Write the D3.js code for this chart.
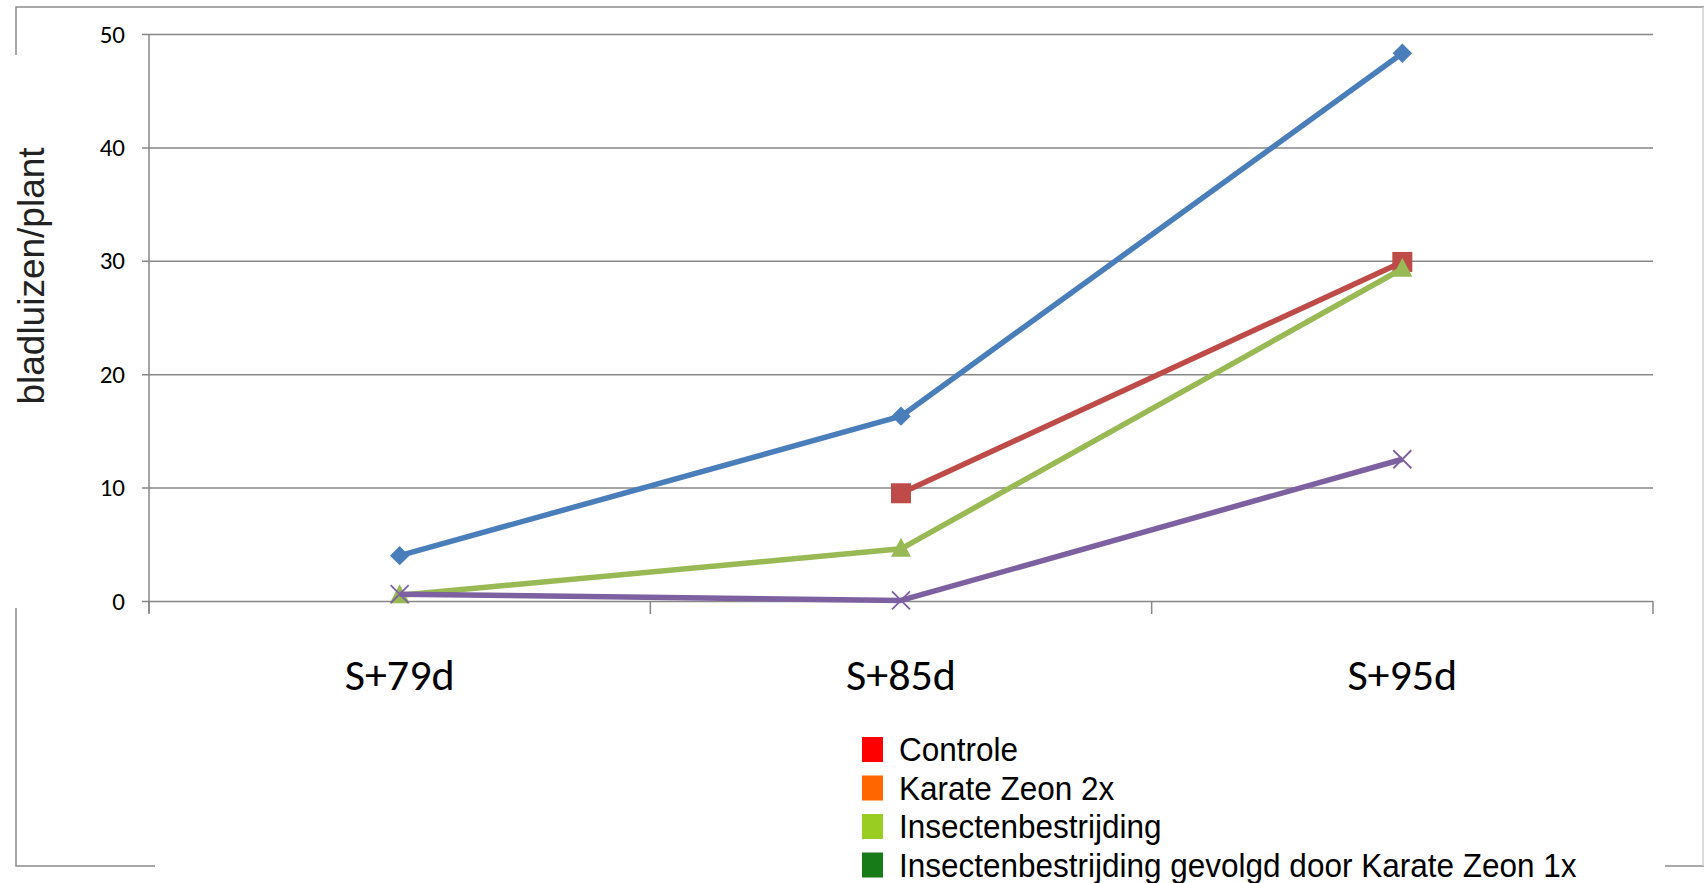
<!DOCTYPE html>
<html><head><meta charset="utf-8">
<script src="https://cdn.jsdelivr.net/npm/d3@7"></script>
<style>html,body{margin:0;padding:0;background:#fff;}svg{display:block;}</style>
</head><body>
<svg id="c" width="1704" height="883"></svg>
<script>
const categories = ["S+79d", "S+85d", "S+95d"];
const blueValues   = [4.0, 16.3, 48.3];
const redValues    = [null, 9.5, 29.9];
const greenValues  = [0.5, 4.6, 29.3];
const purpleValues = [0.6, 0.05, 12.5];
const yTicks = [0, 10, 20, 30, 40, 50];
const legendLabels = ["Controle", "Karate Zeon 2x", "Insectenbestrijding", "Insectenbestrijding gevolgd door Karate Zeon 1x"];
const legendColors = ["#FF0000", "#FF6600", "#9ACD22", "#177B17"];
const yTitle = "bladluizen/plant";

const svg = d3.select("#c");
const L = 149, R = 1653, T = 34, B = 601;
const x = d3.scaleBand().domain(categories).range([L, R]);
const y = d3.scaleLinear().domain([0, 50]).range([B, T]);
const gridColor = "#878787";

// frame
const frame = svg.append("g").attr("stroke", "#8c8c8c").attr("stroke-width", 1.5).attr("fill", "none");
frame.append("path").attr("d", "M16,55 V7 H1704");
frame.append("path").attr("d", "M16,608 V866 H155");
frame.append("path").attr("d", "M1665,866 H1704");
frame.append("path").attr("d", "M1703,7 V866").attr("stroke", "#d0d0d0");

// gridlines + y ticks
const yAxis = d3.axisLeft(y).tickValues(yTicks).tickSize(-(R - L)).tickSizeOuter(0).tickPadding(24);
const gy = svg.append("g").attr("transform", `translate(${L},0)`).call(yAxis)
  .attr("font-size", null).attr("font-family", null);
gy.select(".domain").remove();
gy.selectAll(".tick line").attr("stroke", gridColor).attr("stroke-width", 1.5).attr("x1", -7);
gy.selectAll(".tick text")
  .style("font-family", "Carlito, Lato, 'Open Sans', sans-serif")
  .style("font-size", "25px").attr("fill", "#000");
// y axis line
svg.append("line").attr("x1", L).attr("x2", L).attr("y1", T).attr("y2", B + 12).attr("stroke", gridColor).attr("stroke-width", 1.5);

// x axis ticks
const bounds = [L].concat(categories.map(c => x(c) + x.bandwidth()));
svg.append("g").selectAll("line").data(bounds).join("line")
  .attr("x1", d => d).attr("x2", d => d).attr("y1", B).attr("y2", B + 13)
  .attr("stroke", gridColor).attr("stroke-width", 1.5);
svg.append("g").selectAll("text").data(categories).join("text")
  .attr("x", d => x(d) + x.bandwidth() / 2).attr("y", 690)
  .attr("text-anchor", "middle")
  .style("font-family", "Carlito, Lato, 'Open Sans', sans-serif").style("font-size", "44px")
  .text(d => d);

// y title
svg.append("text").attr("transform", "translate(44,276) rotate(-90)")
  .attr("text-anchor", "middle").style("font-family", "'Liberation Sans', Arial, sans-serif")
  .style("font-size", "37px").attr("fill", "#222").text(yTitle);

// series
const series = [
  {vals: blueValues, color: "#4A7EBB", marker: "diamond"},
  {vals: redValues, color: "#BE4B48", marker: "square"},
  {vals: greenValues, color: "#98B954", marker: "triangle"},
  {vals: purpleValues, color: "#7D60A0", marker: "x"}
];
const cx = c => x(c) + x.bandwidth() / 2;
const line = d3.line().defined(d => d.v !== null).x(d => cx(d.c)).y(d => y(d.v));
series.forEach(s => {
  const pts = categories.map((c, i) => ({c, v: s.vals[i]}));
  svg.append("path").datum(pts).attr("d", line).attr("fill", "none")
    .attr("stroke", s.color).attr("stroke-width", 5.5).attr("stroke-linejoin", "round");
  const g = svg.append("g");
  pts.filter(p => p.v !== null).forEach(p => {
    const px = cx(p.c), py = y(p.v);
    if (s.marker === "diamond") {
      g.append("path").attr("d", d3.symbol(d3.symbolDiamond2, 240)()).attr("transform", `translate(${px},${py})`).attr("fill", s.color);
    } else if (s.marker === "square") {
      g.append("rect").attr("x", px - 10).attr("y", py - 10).attr("width", 20).attr("height", 20).attr("fill", s.color);
    } else if (s.marker === "triangle") {
      g.append("path").attr("d", `M${px},${py - 11} L${px + 10},${py + 8} L${px - 10},${py + 8} Z`).attr("fill", s.color);
    } else {
      g.append("path").attr("d", `M${px - 9},${py - 9} L${px + 9},${py + 9} M${px + 9},${py - 9} L${px - 9},${py + 9}`)
        .attr("stroke", s.color).attr("stroke-width", 1.8).attr("fill", "none");
    }
  });
});

// legend
const leg = svg.append("g");
const rowY = [749.5, 788, 826.5, 865];
legendLabels.forEach((t, i) => {
  leg.append("rect").attr("x", 862).attr("y", rowY[i] - 12.5).attr("width", 21).attr("height", 25).attr("fill", legendColors[i]);
  leg.append("text").attr("transform", `translate(899,${rowY[i] + 11.5}) scale(1,1.07)`)
    .style("font-family", "'Liberation Sans', Arial, sans-serif").style("font-size", "31.5px").text(t);
});
</script>
</body></html>
